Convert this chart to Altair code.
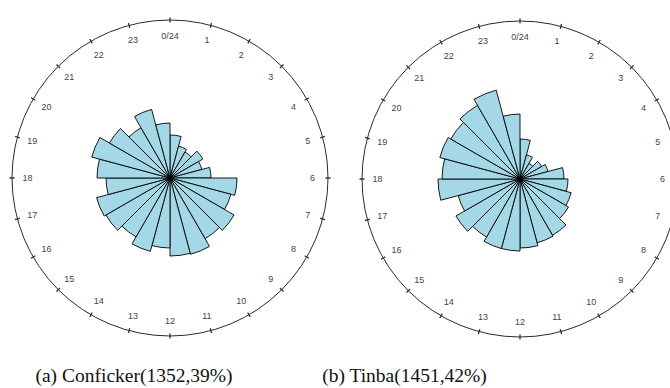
import math
import altair as alt
import pandas as pd

# ---- data ----
hours = list(range(24))
hour_labels = ["0/24"] + [str(h) for h in range(1, 24)]
# relative hourly activity (radius units, outer ring = 158)
conficker = [43, 33, 30, 38, 33, 41, 67, 63, 74, 70, 79, 78,
             70, 76, 68, 74, 76, 64, 73, 81, 70, 58, 71, 55]
tinba = [40, 25, 18, 25, 29, 44, 48, 53, 56, 65, 66, 69,
         72, 72, 67, 74, 64, 82, 78, 83, 80, 85, 92, 65]
captions = ["(a) Conficker(1352,39%)", "(b) Tinba(1451,42%)"]
ring_max = 158

FILL = "#a4d8e6"
R_OUT = 158
R_LABEL = 142.5

theta_scale = alt.Scale(domain=[0, 24], range=[0, 2 * math.pi], nice=False, zero=False)
radius_scale = alt.Scale(type="linear", domain=[0, ring_max], range=[0, R_OUT], nice=False, zero=True)

hour_df = pd.DataFrame({"hour": hours, "label": hour_labels})


def panel(values, cx, cy):
    bars = pd.DataFrame({"hour": hours, "value": values})
    bar_layer = alt.Chart(bars).transform_calculate(
        end="datum.hour + 1"
    ).mark_arc(x=cx, y=cy, fill=FILL, stroke="#000000", strokeWidth=0.9).encode(
        theta=alt.Theta("hour:Q", scale=theta_scale, stack=None),
        theta2="end:Q",
        radius=alt.Radius("value:Q", scale=radius_scale),
    )
    ring = alt.Chart(pd.DataFrame({"k": [0]})).mark_arc(
        x=cx, y=cy, theta=0, theta2=2 * math.pi, radius=R_OUT,
        fillOpacity=0, stroke="#2a2a2a", strokeWidth=1
    ).encode(opacity=alt.value(1))
    ticks = alt.Chart(hour_df).transform_calculate(
        t0="datum.hour - 0.016", t1="datum.hour + 0.016"
    ).mark_arc(x=cx, y=cy, radius=R_OUT + 2.5, radius2=R_OUT - 2.5, fill="#333333").encode(
        theta=alt.Theta("t0:Q", scale=theta_scale, stack=None),
        theta2="t1:Q",
    )
    labels = alt.Chart(hour_df).mark_text(
        x=cx, y=cy, radius=R_LABEL, font="Liberation Sans", fontSize=9,
        color="#444444", align="center", baseline="middle"
    ).encode(
        theta=alt.Theta("hour:Q", scale=theta_scale, stack=None),
        text="label:N",
    )
    return [ring, ticks, labels, bar_layer]


def caption(txt, x, y):
    return alt.Chart(pd.DataFrame({"caption": [txt]})).mark_text(
        x=x, y=y, font="Liberation Serif", fontSize=19.5, color="#111111",
        align="center", baseline="alphabetic"
    ).encode(text="caption:N")


layers = panel(conficker, 170, 178) + panel(tinba, 520, 179) + [
    caption(captions[0], 134, 382),
    caption(captions[1], 404.5, 382),
]

chart = alt.layer(*layers).properties(
    width=670, height=388, padding=0,
    autosize=alt.AutoSizeParams(type="none"),
).configure_view(stroke=None)

chart.save("out.html", embed_options={"renderer": "svg", "actions": False})
